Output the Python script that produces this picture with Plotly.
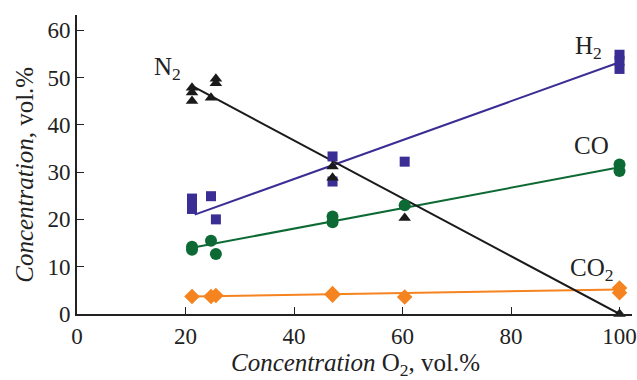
import plotly.graph_objects as go

# N2 (triangles)
n2_x = [21.2, 21.2, 21.2, 24.7, 25.6, 25.6, 47.1, 47.1, 60.4, 100]
n2_y = [47.8, 46.8, 45.0, 45.7, 49.7, 48.8, 31.2, 28.8, 20.3, 0.0]
# H2 (squares)
h2_x = [21.2, 21.2, 21.2, 24.7, 25.6, 47.1, 47.1, 60.4, 100, 100, 100]
h2_y = [24.4, 23.2, 22.2, 24.9, 20.0, 33.3, 28.0, 32.2, 54.8, 53.5, 51.8]
# CO (circles)
co_x = [21.2, 21.2, 24.7, 25.6, 47.1, 47.1, 60.4, 100, 100]
co_y = [14.2, 13.6, 15.5, 12.7, 20.6, 19.4, 23.0, 31.6, 30.2]
# CO2 (diamonds)
co2_x = [21.2, 24.7, 25.6, 47.1, 47.1, 60.4, 100, 100]
co2_y = [3.7, 3.7, 3.9, 4.3, 4.0, 3.6, 5.5, 4.5]

# trend lines
n2_fit_x, n2_fit_y = [21.2, 100], [48.2, 0.0]
h2_fit_x, h2_fit_y = [21.7, 100], [21.0, 53.2]
co_fit_x, co_fit_y = [21.2, 100], [14.0, 31.0]
co2_fit_x, co2_fit_y = [21.2, 100], [3.7, 5.2]

x_ticks = [0, 20, 40, 60, 80, 100]
y_ticks = [0, 10, 20, 30, 40, 50, 60]

C_N2 = "#1a1a1a"
C_H2 = "#3a2d94"
C_CO = "#0d6a34"
C_CO2 = "#f5831f"

FONT = "Liberation Serif"
TXT = "#222"

fig = go.Figure()

def fit(x, y, c):
    fig.add_trace(go.Scatter(x=x, y=y, mode="lines", line=dict(color=c, width=2),
                             showlegend=False, hoverinfo="skip", cliponaxis=False))

def pts(x, y, c, sym, size):
    fig.add_trace(go.Scatter(x=x, y=y, mode="markers",
                             marker=dict(color=c, symbol=sym, size=size, line=dict(width=0)),
                             showlegend=False, cliponaxis=False))

fit(h2_fit_x, h2_fit_y, C_H2)
fit(co_fit_x, co_fit_y, C_CO)
fit(co2_fit_x, co2_fit_y, C_CO2)
fit(n2_fit_x, n2_fit_y, C_N2)
pts(h2_x, h2_y, C_H2, "square", 10)
pts(co_x, co_y, C_CO, "circle", 12)
pts(co2_x, co2_y, C_CO2, "diamond", 12)
pts(n2_x, n2_y, C_N2, "triangle-up", 11)

labels = [
    ("N<sub>2</sub>", 16.6, 51.8),
    ("H<sub>2</sub>", 94.3, 56.4),
    ("CO", 94.8, 35.6),
    ("CO<sub>2</sub>", 94.8, 9.4),
]
for t, x, y in labels:
    fig.add_annotation(x=x, y=y, text=t, showarrow=False,
                       font=dict(family=FONT, size=25, color=TXT))

# axis titles (plot area: x 77..632, y 15..314 in page pixels)
fig.add_annotation(xref="paper", yref="paper", x=0.501, y=-0.168,
                   xanchor="center", yanchor="middle", showarrow=False,
                   text="<i>Concentration</i> O<sub>2</sub>, vol.%",
                   font=dict(family=FONT, size=25, color=TXT))
fig.add_annotation(xref="paper", yref="paper", x=-0.094, y=0.465,
                   xanchor="center", yanchor="middle", showarrow=False,
                   textangle=-90, text="<i>Concentration</i>, vol.%",
                   font=dict(family=FONT, size=25, color=TXT))

fig.update_layout(
    width=637, height=380,
    margin=dict(l=77, r=5, t=15, b=66),
    paper_bgcolor="white", plot_bgcolor="white",
    font=dict(family=FONT, size=23, color=TXT),
    xaxis=dict(range=[0, 102.3], tickvals=x_ticks, ticks="inside", ticklen=7,
               tickcolor=TXT, showline=True, linecolor=TXT, linewidth=2,
               showgrid=False, zeroline=False, automargin=False),
    yaxis=dict(range=[0, 63.2], tickvals=y_ticks, ticks="inside", ticklen=7,
               tickcolor=TXT, showline=True, linecolor=TXT, linewidth=2,
               showgrid=False, zeroline=False, automargin=False),
)

fig.write_html(
    "out.html",
    config={"displayModeBar": False},
    post_script="document.body.style.margin='0';document.body.style.overflow='hidden';",
)
